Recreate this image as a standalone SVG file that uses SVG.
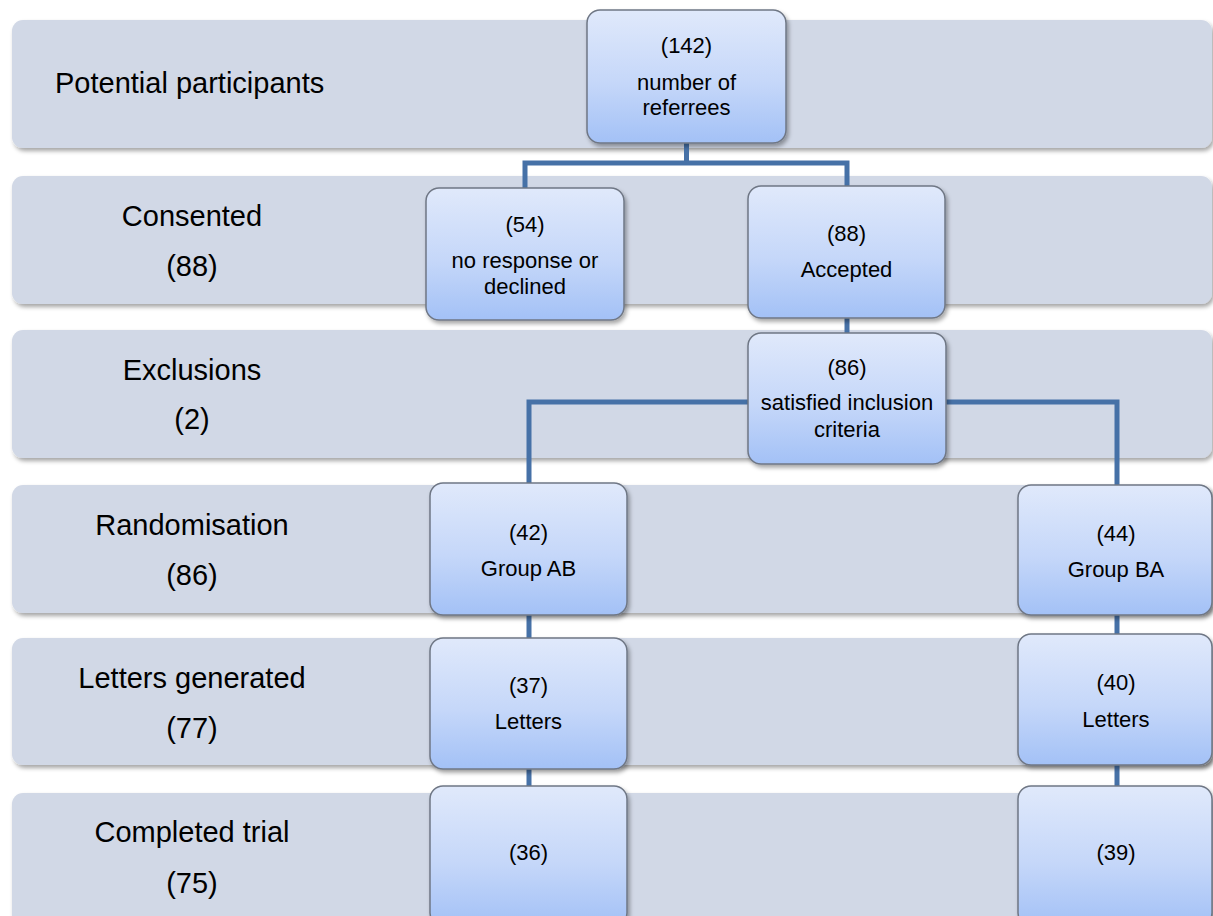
<svg xmlns="http://www.w3.org/2000/svg" width="1213" height="916" viewBox="0 0 1213 916">
  <defs>
    <linearGradient id="nodeGrad" x1="0" y1="0" x2="0" y2="1">
      <stop offset="0" stop-color="#e0e9fb"/>
      <stop offset="0.55" stop-color="#c5d7f9"/>
      <stop offset="1" stop-color="#a3c1f6"/>
    </linearGradient>
    <filter id="shadow" x="-5%" y="-10%" width="112%" height="125%">
      <feDropShadow dx="2" dy="3" stdDeviation="2" flood-color="#000" flood-opacity="0.35"/>
    </filter>
    <style>
      .band { fill: #d1d8e6; filter: url(#shadow); }
      .node { fill: url(#nodeGrad); stroke: #6f7785; stroke-width: 1.5; filter: url(#shadow); }
      .lbl { font-family: "Liberation Sans", Arial, sans-serif; font-size: 29px; fill: #000; }
      .lblc { font-family: "Liberation Sans", Arial, sans-serif; font-size: 29px; fill: #000; text-anchor: middle; }
      .nt { font-family: "Liberation Sans", Arial, sans-serif; font-size: 22px; fill: #000; text-anchor: middle; }
      .conn { fill: none; stroke: #4671a7; stroke-width: 5; stroke-linejoin: miter; }
    </style>
  </defs>
  <rect width="1213" height="916" fill="#ffffff"/>

  <g id="bands">
    <g id="band-potential">
      <rect class="band" x="12" y="20" width="1200" height="128" rx="11"/>
      <text class="lbl" x="55" y="93">Potential participants</text>
    </g>
    <g id="band-consented">
      <rect class="band" x="12" y="176" width="1200" height="128" rx="11"/>
      <text class="lblc" x="192" y="226">Consented</text>
      <text class="lblc" x="192" y="276">(88)</text>
    </g>
    <g id="band-exclusions">
      <rect class="band" x="12" y="330" width="1200" height="128" rx="11"/>
      <text class="lblc" x="192" y="380">Exclusions</text>
      <text class="lblc" x="192" y="429">(2)</text>
    </g>
    <g id="band-randomisation">
      <rect class="band" x="12" y="485" width="1200" height="128" rx="11"/>
      <text class="lblc" x="192" y="535">Randomisation</text>
      <text class="lblc" x="192" y="585">(86)</text>
    </g>
    <g id="band-letters">
      <rect class="band" x="12" y="638" width="1200" height="127" rx="11"/>
      <text class="lblc" x="192" y="688">Letters generated</text>
      <text class="lblc" x="192" y="738">(77)</text>
    </g>
    <g id="band-completed">
      <rect class="band" x="12" y="793" width="1200" height="140" rx="11"/>
      <text class="lblc" x="192" y="842">Completed trial</text>
      <text class="lblc" x="192" y="893">(75)</text>
    </g>
  </g>

  <g id="connectors">
    <path class="conn" d="M686.5,143 V163 M524,163 H848 M525,160.5 V188 M847,160.5 V186"/>
    <path class="conn" d="M847,318 V333"/>
    <path class="conn" d="M748,402 H529 V483"/>
    <path class="conn" d="M946,402 H1117 V485"/>
    <path class="conn" d="M529,615 V638 M529,769 V786"/>
    <path class="conn" d="M1117,615 V634 M1117,765 V786"/>
  </g>

  <g id="node-142">
    <rect class="node" x="587" y="10" width="199" height="133" rx="13"/>
    <text class="nt" x="686.5" y="53">(142)</text>
    <text class="nt" x="686.5" y="90">number of</text>
    <text class="nt" x="686.5" y="115">referrees</text>
  </g>
  <g id="node-54">
    <rect class="node" x="426" y="188" width="198" height="132" rx="13"/>
    <text class="nt" x="525" y="232">(54)</text>
    <text class="nt" x="525" y="268">no response or</text>
    <text class="nt" x="525" y="294">declined</text>
  </g>
  <g id="node-88">
    <rect class="node" x="748" y="186" width="197" height="132" rx="13"/>
    <text class="nt" x="846.5" y="241">(88)</text>
    <text class="nt" x="846.5" y="277">Accepted</text>
  </g>
  <g id="node-86">
    <rect class="node" x="748" y="333" width="198" height="131" rx="13"/>
    <text class="nt" x="847" y="375">(86)</text>
    <text class="nt" x="847" y="410">satisfied inclusion</text>
    <text class="nt" x="847" y="437">criteria</text>
  </g>
  <g id="node-42">
    <rect class="node" x="430" y="483" width="197" height="132" rx="13"/>
    <text class="nt" x="528.5" y="540">(42)</text>
    <text class="nt" x="528.5" y="576">Group AB</text>
  </g>
  <g id="node-44">
    <rect class="node" x="1018" y="485" width="194" height="130" rx="13"/>
    <text class="nt" x="1116" y="541">(44)</text>
    <text class="nt" x="1116" y="577">Group BA</text>
  </g>
  <g id="node-37">
    <rect class="node" x="430" y="638" width="197" height="131" rx="13"/>
    <text class="nt" x="528.5" y="693">(37)</text>
    <text class="nt" x="528.5" y="729">Letters</text>
  </g>
  <g id="node-40">
    <rect class="node" x="1018" y="634" width="194" height="131" rx="13"/>
    <text class="nt" x="1116" y="690">(40)</text>
    <text class="nt" x="1116" y="727">Letters</text>
  </g>
  <g id="node-36">
    <rect class="node" x="430" y="786" width="197" height="140" rx="13"/>
    <text class="nt" x="528.5" y="860">(36)</text>
  </g>
  <g id="node-39">
    <rect class="node" x="1018" y="786" width="194" height="140" rx="13"/>
    <text class="nt" x="1116" y="860">(39)</text>
  </g>
</svg>
